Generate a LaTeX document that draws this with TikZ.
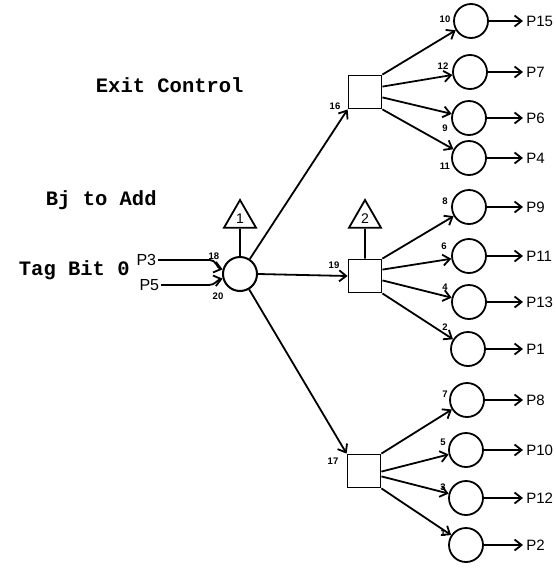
\documentclass[tikz,border=0pt]{standalone}
\usepackage{fontspec}
\setmainfont{Liberation Sans}
\newfontfamily\typefont{Liberation Mono}
\usetikzlibrary{arrows.meta,shapes.geometric}
\begin{document}
\begin{tikzpicture}[x=1pt,y=-1pt,
  line width=1.8pt,
  arr/.style={-{Straight Barb[length=7pt,width=11pt,line width=1.8pt]}},
  gate/.style={draw,circle,minimum size=34pt,inner sep=0pt},
  sq/.style={draw,rectangle,minimum width=33pt,minimum height=33pt,inner sep=0pt},
  tri/.style={draw,regular polygon,regular polygon sides=3,minimum size=37pt,inner sep=0pt,font=\fontsize{14}{14}\selectfont},
  plab/.style={anchor=west,inner xsep=2.5pt,inner ysep=1pt,font=\fontsize{15}{15}\selectfont},
  num/.style={inner sep=0pt,font=\bfseries\fontsize{9.5}{9.5}\selectfont},
  title/.style={anchor=west,inner sep=0pt,font=\typefont\bfseries\fontsize{20.5}{20.5}\selectfont}]
\useasboundingbox (0,0) rectangle (555,568);
% texts
\node[title] (ec) at (95,85) {Exit Control};
\node[title] (bj) at (45,200) {Bj to Add};
\node[title] (tb) at (18,270) {Tag Bit 0};
% main gate
\node[gate,line width=2pt] (m) at (240,274) {};
\node[tri] (t1) at (240,218.5) {1};
\draw (t1.south) -- (m.north);
% inputs
\node[anchor=east,inner sep=1pt,font=\fontsize{16}{16}\selectfont] (p3) at (158,260) {P3};
\node[anchor=east,inner sep=1pt,font=\fontsize{16}{16}\selectfont] (p5) at (161,285) {P5};
\draw[arr] (p3.east) -- ++(52,0) to[out=0,in=165] (m.165);
\draw[arr] (p5.east) -- ++(48,0) to[out=0,in=195] (m.195);
\node[num] (n18) at (214,256) {18};
\node[num] (n20) at (218,296) {20};
% squares
\node[sq] (s1) at (365,92) {};
\node[sq] (s2) at (365,276) {};
\node[sq] (s3) at (364,471) {};
\node[tri] (t2) at (365,218.5) {2};
\draw (t2.south) -- (s2.north);
\draw[arr] (m) -- (s1.south west);
\draw[arr] (m.east) -- (s2.west);
\draw[arr] (m) -- (s3.north west);
\node[num] (n16) at (335,106) {16};
\node[num] (n19) at (334,265) {19};
\node[num] (n17) at (333,461) {17};
% output circles
\foreach \i/\x/\y/\lab in {1/471/21/P15,2/470/72/P7,3/469/118/P6,4/469/158/P4,
                          5/469/207/P9,6/469/256/P11,7/469/302/P13,8/468/349/P1,
                          9/467/400/P8,10/466/450/P10,11/466/498/P12,12/466/545/P2}{
  \node[gate] (c\i) at (\x,\y) {};
  \node[plab] (o\i) at (523,\y) {\lab};
  \draw[arr] (c\i.east) -- (o\i.west);
}
% square to circle arrows
\draw[arr] (s1.north east) -- (c1);
\draw[arr] ([yshift=-12pt]s1.north east) -- (c2);
\draw[arr] ([yshift=12pt]s1.south east) -- (c3);
\draw[arr] (s1.south east) -- (c4);
\draw[arr] (s2.north east) -- (c5);
\draw[arr] ([yshift=-11pt]s2.north east) -- (c6);
\draw[arr] ([yshift=13pt]s2.south east) -- (c7);
\draw[arr] (s2.south east) -- (c8);
\draw[arr] (s3.north east) -- (c9);
\draw[arr] ([yshift=-18pt]s3.north east) -- (c10);
\draw[arr] ([yshift=12pt]s3.south east) -- (c11);
\draw[arr] (s3.south east) -- (c12);
% numbers near circles
\node[num] (l10) at (445,19) {10};
\node[num] (l12) at (443,66) {12};
\node[num] (l9) at (445,128) {9};
\node[num] (l11) at (445,166) {11};
\node[num] (l8) at (445,201) {8};
\node[num] (l6) at (444,246) {6};
\node[num] (l4) at (445,287) {4};
\node[num] (l2) at (445,327) {2};
\node[num] (l7) at (445,394) {7};
\node[num] (l5) at (443,442) {5};
\node[num] (l3) at (443,487) {3};
\node[num] (l1) at (443,533) {1};
\end{tikzpicture}
\end{document}
